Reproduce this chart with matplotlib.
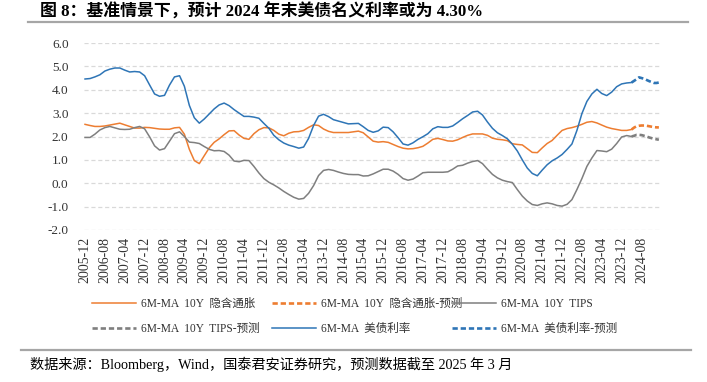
import matplotlib
matplotlib.use("Agg")
import matplotlib.pyplot as plt
import matplotlib.dates as mdates
from matplotlib.lines import Line2D
import pandas as pd

# ---------------- data (6M moving averages, %) ----------------
hist_start = "2005-12-01"   # bi-monthly readings, 2005-12 .. 2024-04
fc_start = "2024-04-01"     # monthly forecast, 2024-04 .. 2025-03

ust_10y = [
    4.46, 4.48, 4.55, 4.64, 4.80, 4.88, 4.93, 4.93, 4.84, 4.76, 4.78, 4.76,
    4.60, 4.20, 3.82, 3.72, 3.76, 4.20, 4.55, 4.60, 4.15, 3.33, 2.80, 2.57,
    2.75, 2.97, 3.18, 3.35, 3.43, 3.32, 3.15, 3.00, 2.86, 2.86, 2.83, 2.78,
    2.56, 2.35, 2.05, 1.86, 1.72, 1.63, 1.57, 1.50, 1.55, 1.92, 2.47, 2.87,
    2.95, 2.85, 2.72, 2.66, 2.60, 2.54, 2.55, 2.56, 2.42, 2.26, 2.18, 2.24,
    2.40, 2.38, 2.20, 1.95, 1.68, 1.63, 1.73, 1.88, 1.99, 2.12, 2.33, 2.42,
    2.39, 2.39, 2.45, 2.60, 2.76, 2.90, 3.05, 3.08, 2.92, 2.62, 2.35, 2.16,
    2.04, 1.90, 1.67, 1.38, 1.00, 0.65, 0.42, 0.32, 0.56, 0.79, 0.96, 1.08,
    1.23, 1.45, 1.68, 2.26, 2.98, 3.50, 3.82, 4.02, 3.84, 3.75, 3.90, 4.13,
    4.25, 4.29, 4.31,
]
breakeven = [
    2.52, 2.47, 2.43, 2.43, 2.45, 2.49, 2.53, 2.57, 2.50, 2.43, 2.36, 2.36,
    2.39, 2.38, 2.35, 2.32, 2.31, 2.31, 2.37, 2.39, 2.10, 1.45, 0.97, 0.84,
    1.18, 1.52, 1.75, 1.90, 2.08, 2.24, 2.25, 2.06, 1.92, 1.88, 2.12, 2.29,
    2.38, 2.37, 2.26, 2.10, 2.03, 2.14, 2.20, 2.21, 2.26, 2.39, 2.50, 2.47,
    2.32, 2.22, 2.17, 2.17, 2.17, 2.17, 2.20, 2.23, 2.16, 1.98, 1.80, 1.76,
    1.78, 1.75, 1.66, 1.57, 1.50, 1.47, 1.48, 1.52, 1.58, 1.72, 1.88, 1.92,
    1.87, 1.81, 1.80, 1.86, 1.96, 2.05, 2.11, 2.11, 2.11, 2.05, 1.93, 1.88,
    1.86, 1.82, 1.69, 1.66, 1.64, 1.48, 1.32, 1.31, 1.51, 1.70, 1.83, 2.05,
    2.26, 2.34, 2.38, 2.44, 2.52, 2.61, 2.64, 2.58, 2.49, 2.40, 2.34, 2.30,
    2.26, 2.26, 2.30,
]
tips = [
    1.96, 1.96, 2.10, 2.28, 2.38, 2.43, 2.37, 2.31, 2.30, 2.31, 2.38, 2.43,
    2.33, 1.98, 1.60, 1.42, 1.48, 1.80, 2.12, 2.20, 2.00, 1.76, 1.74, 1.70,
    1.57, 1.45, 1.39, 1.40, 1.36, 1.20, 0.95, 0.92, 0.98, 0.97, 0.72, 0.44,
    0.20, 0.04, -0.07, -0.20, -0.35, -0.48, -0.60, -0.68, -0.65, -0.43, -0.10, 0.33,
    0.55, 0.59, 0.55, 0.48, 0.42, 0.38, 0.37, 0.37, 0.31, 0.32, 0.40, 0.50,
    0.60, 0.60, 0.52, 0.38, 0.20, 0.13, 0.18, 0.31, 0.45, 0.47, 0.47, 0.47,
    0.47, 0.49, 0.60, 0.74, 0.77, 0.86, 0.93, 0.97, 0.84, 0.60, 0.38, 0.23,
    0.13, 0.07, 0.03, -0.27, -0.55, -0.76, -0.91, -0.95, -0.88, -0.84, -0.88, -0.95,
    -0.98, -0.90, -0.70, -0.27, 0.20, 0.72, 1.08, 1.40, 1.38, 1.35, 1.46, 1.70,
    1.98, 2.04, 2.00,
]
ust_10y_fc = [4.31, 4.38, 4.45, 4.53, 4.50, 4.47, 4.42, 4.37, 4.33, 4.29, 4.29, 4.31]
breakeven_fc = [2.30, 2.38, 2.44, 2.46, 2.47, 2.47, 2.46, 2.44, 2.42, 2.40, 2.39, 2.39]
tips_fc = [2.00, 2.03, 2.07, 2.07, 2.06, 2.03, 2.00, 1.96, 1.93, 1.90, 1.88, 1.86]

labels = ["6M-MA  10Y  隐含通胀", "6M-MA  10Y  隐含通胀-预测", "6M-MA  10Y  TIPS",
          "6M-MA  10Y  TIPS-预测", "6M-MA  美债利率", "6M-MA  美债利率-预测"]
title = "图 8：基准情景下，预计 2024 年末美债名义利率或为 4.30%"
source = "数据来源：Bloomberg，Wind，国泰君安证券研究，预测数据截至 2025 年 3 月"
yticks = [-2.0, -1.0, 0.0, 1.0, 2.0, 3.0, 4.0, 5.0, 6.0]

hist_dates = pd.date_range(hist_start, periods=len(ust_10y), freq="2MS")
fc_dates = pd.date_range(fc_start, periods=len(ust_10y_fc), freq="MS")
tick_dates = pd.date_range("2005-12-01", "2024-08-01", freq="8MS")

# ---------------- style ----------------
SERIF = ["Liberation Serif", "Noto Sans CJK SC"]
plt.rcParams["font.family"] = SERIF
ORANGE = "#ED7D31"
GREY = "#7F7F7F"
BLUE = "#2E75B6"

W, H = 707, 382
fig = plt.figure(figsize=(W / 100, H / 100), dpi=100)

def fx(px):
    return px / W

def fy(py):
    return 1 - py / H

ax = fig.add_axes([fx(83.8), fy(230), fx(576.3), fy(43) - fy(230)])

solid_lw = 1.1
dash_lw = 1.9
dash_style = (0, (2.0, 1.1))

l1, = ax.plot(hist_dates, breakeven, color=ORANGE, lw=solid_lw)
l2, = ax.plot(fc_dates, breakeven_fc, color=ORANGE, lw=dash_lw, linestyle=dash_style)
l3, = ax.plot(hist_dates, tips, color=GREY, lw=solid_lw)
l4, = ax.plot(fc_dates, tips_fc, color=GREY, lw=dash_lw, linestyle=dash_style)
l5, = ax.plot(hist_dates, ust_10y, color=BLUE, lw=solid_lw)
l6, = ax.plot(fc_dates, ust_10y_fc, color=BLUE, lw=dash_lw, linestyle=dash_style)

ax.set_ylim(-2, 6)
ax.set_yticks(yticks)
ax.set_yticklabels([f"{v:.1f}" for v in yticks], fontsize=9.5)
ax.set_xlim(pd.Timestamp("2005-11-16"), pd.Timestamp("2025-03-16"))
ax.set_xticks(tick_dates)
ax.set_xticklabels([d.strftime("%Y-%m") for d in tick_dates], rotation=90, fontsize=10)
ax.tick_params(axis="y", length=0, pad=11, colors="#333333")
ax.tick_params(axis="x", length=0, pad=5, colors="#333333")
for s in ax.spines.values():
    s.set_visible(False)
ax.yaxis.grid(True, color="#D9D9D9", linestyle=(0, (3.3, 2.2)), linewidth=0.9)
ax.xaxis.grid(False)
ax.set_axisbelow(True)

# legend: three fixed-width columns
handles = [l1, l2, l3, l4, l5, l6]
cols = [(0, 3), (1, 4), (2, 5)]
col_x = [92, 272, 452]
for (a, b), xpx in zip(cols, col_x):
    leg = fig.legend([handles[a], handles[b]], [labels[a], labels[b]],
                     loc="upper left", bbox_to_anchor=(fx(xpx), fy(298)),
                     frameon=False, fontsize=8.3, handlelength=3.8,
                     handletextpad=0.45, labelspacing=1.1, borderpad=0,
                     borderaxespad=0)
    for t in leg.get_texts():
        t.set_color("#333333")

# title, rules and source
fig.text(fx(40), fy(12), title, fontsize=12.2, fontweight="bold",
         ha="left", va="center", color="black")
fig.add_artist(Line2D([fx(28), fx(688)], [fy(22), fy(22)], color="#A6A6A6", lw=1.6))
fig.add_artist(Line2D([fx(21), fx(691)], [fy(349.5), fy(349.5)], color="#A6A6A6", lw=1.6))
fig.text(fx(30), fy(364), source, fontsize=10.2, ha="left", va="center", color="black")

fig.savefig("out.png", dpi=100)
